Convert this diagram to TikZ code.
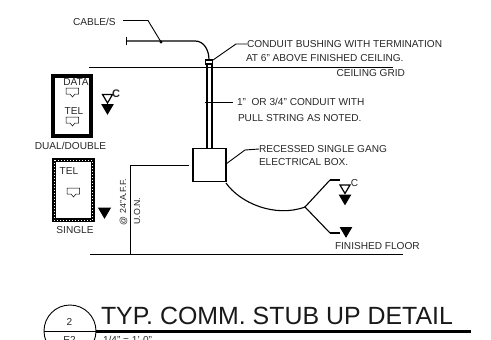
\documentclass[tikz,border=0pt]{standalone}
\usepackage{fontspec}
\setmainfont{Liberation Sans}
\usetikzlibrary{calc}

\begin{document}
\begin{tikzpicture}[x=1pt,y=-1pt,line width=1pt,every node/.style={inner sep=0pt,outer sep=0pt}]

\tikzset{note/.style={font=\fontsize{10.1}{12}\selectfont,text=black!85},
smallnote/.style={font=\fontsize{8.8}{10}\selectfont,text=black!85},
leader/.style={line width=0.9pt},
opentri/.style={line width=1.2pt,fill=white},
filltri/.style={fill=black,draw=black}}

\newcommand{\jacksym}[2]{\draw [line width=0.5pt] (#1,#2) -- ++(12.5,0) -- ++(0,6) -- ++(-3.5,0) -- ++(-2.5,3) -- ++(-2.5,-3) -- ++(-4,0) -- cycle;}
\newcommand{\downtri}[3]{\draw [filltri] (#1-#3,#2) -- (#1+#3,#2) -- (#1,#2+1.7*#3) -- cycle;}
\newcommand{\opendown}[3]{\draw [opentri] (#1-#3,#2) -- (#1+#3,#2) -- (#1,#2+1.7*#3) -- cycle;}

\useasboundingbox (0,0) rectangle (491,340);
\clip (0,0) rectangle (491,340);

% ceiling and floor
\draw (89,67) -- (393,67);
\draw (90,254.5) -- (403,254.5);

% cable and conduit
\node [note,anchor=west] (cables) at (73,22) {CABLE/S};
\coordinate (cablemark) at (161,42);
\draw [leader] (123,20.5) -- (148,20.5) -- (cablemark);
\fill (cablemark) circle (1.6);
\draw (126,37) -- (126,45);
\draw [line width=1.2pt] (126,41) -- (195,41) .. controls (204,41) and (209,50) .. (209,60);
\draw [line width=1.1pt] (207,64) -- (207,148);
\draw [line width=1.1pt] (212,64) -- (212,148);
\draw [line width=1.2pt,fill=white] (205.5,60) rectangle (212.5,64);
\draw [line width=1.5pt] (205,102.5) -- (212,102.5);

% electrical box
\draw [line width=1.2pt] (193,148.5) rectangle (226,181.5);
\coordinate (boxside) at (226,164);
\coordinate (boxcorner) at (226,183);

% notes on the right
\node [note,anchor=west] (bushing) at (247,44) {CONDUIT BUSHING WITH TERMINATION};
\node [note,anchor=west] (above) at (246,58.5) {AT 6" ABOVE FINISHED CEILING.};
\node [note,anchor=east] (grid) at (405,73.5) {CEILING GRID};
\node [note,anchor=west] (stringa) at (237,102) {1"~~OR 3/4" CONDUIT WITH};
\node [note,anchor=west] (stringb) at (238,118) {PULL STRING AS NOTED.};
\node [note,anchor=west] (recessed) at (259,149) {RECESSED SINGLE GANG};
\node [note,anchor=west] (elecbox) at (259,162.5) {ELECTRICAL BOX.};
\node [note,anchor=west] (floor) at (335,246) {FINISHED FLOOR};

\draw [leader] (213,60) -- (236,44) -- (bushing.west);
\draw [leader] (212,102.5) -- (233,102.5);
\draw [leader] (boxside) -- (245,150) -- (recessed.west);

% dimension
\draw (130,254) -- (130,165) -- (189,165);
\node [smallnote,rotate=90,anchor=west] (height) at (123.5,225) {@ 24"A.F.F.};
\node [smallnote,rotate=90,anchor=west] (uon) at (137,224.5) {U.O.N.};

% branch to the outlets
\coordinate (branch) at (305,207);
\draw [line width=1.1pt] (boxcorner) .. controls (240,203) and (275,218) .. (branch);
\draw [line width=1.1pt] (330,180) -- (branch) -- (330,233);
\draw [line width=1.1pt] (330,180) -- (340,180);
\draw [line width=1.1pt] (330,233) -- (340,233);
\opendown{345}{185}{5}
\downtri{345}{195}{5.5}
\downtri{346}{227.5}{5.5}
\node [note,anchor=center] (cright) at (354.5,183.5) {C};

% dual outlet
\draw [line width=3.5pt] (52.8,75.8) rectangle (91.2,136);
\node [note,anchor=center] (data) at (76,82) {DATA};
\node [note,anchor=center] (teldual) at (74,111) {TEL};
\jacksym{66}{88}
\jacksym{66}{117}
\node [note,anchor=center] (dual) at (70.5,146) {DUAL/DOUBLE};
\opendown{107.5}{94.5}{5}
\downtri{107.5}{104.5}{5.5}
\node [note,anchor=center,font=\fontsize{11}{12}\bfseries] (cleft) at (116,94) {C};

% single outlet
\draw [line width=4pt] (54,160) rectangle (92.5,220);
\draw [line width=0.8pt,white,dash pattern=on 1pt off 2pt] (54,160) rectangle (92.5,220);
\node [note,anchor=center] (telsingle) at (69,171) {TEL};
\jacksym{67}{188}
\node [note,anchor=center] (single) at (75,230.5) {SINGLE};
\downtri{104.5}{208}{5.8}

% title block
\draw [line width=0.9pt] (70,331) circle [radius=26pt];
\draw [line width=0.9pt] (44,331) -- (96,331);
\draw [line width=3pt] (96,331) -- (471,331);
\node [note,anchor=center] (sheetnum) at (69.5,322) {2};
\node [note,anchor=center] (sheetref) at (69.5,339.5) {E2};
\node [anchor=base west,font=\fontsize{24.9}{28}\selectfont,text=black!90] (title) at (101,324) {TYP. COMM. STUB UP DETAIL};
\node [note,anchor=west] (scalenote) at (103,339.5) {1/4" = 1'-0"};

\end{tikzpicture}
\end{document}
